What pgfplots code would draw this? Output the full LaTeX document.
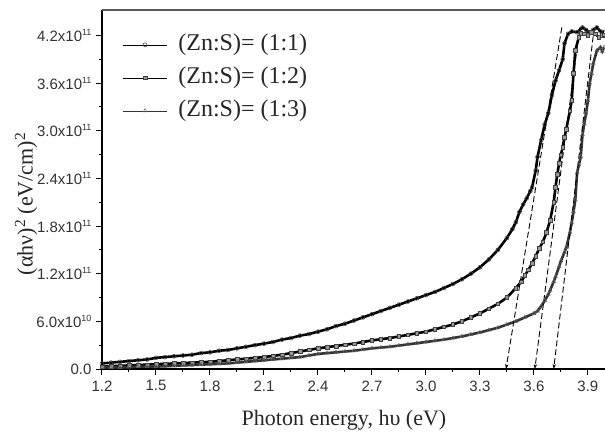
\documentclass[border=0pt]{standalone}
\usepackage{fontspec}
\setmainfont{Liberation Serif}
\newfontfamily\arial{Liberation Sans}
\usepackage{pgfplots}
\pgfplotsset{compat=1.18}
\usetikzlibrary{arrows.meta}
\newcommand\sci[2]{#1x10\raisebox{0.75ex}{\fontsize{9}{10}\selectfont #2}}
\begin{document}
\begin{tikzpicture}
\useasboundingbox (-102pt,-65pt) rectangle (503pt,369pt);
\begin{axis}[
  at={(0,0)}, anchor=south west,
  scale only axis, width=503pt, height=359pt,
  xmin=1.2, xmax=3.995, ymin=0, ymax=4.52,
  axis lines*=left,
  axis line style={-, line width=1.2pt},
  tick align=outside,
  major tick length=6pt, minor tick length=3pt,
  tick style={black, line width=1pt},
  minor x tick num=1, minor y tick num=1,
  xtick={1.2,1.5,1.8,2.1,2.4,2.7,3.0,3.3,3.6,3.9},
  xticklabels={1.2,1.5,1.8,2.1,2.4,2.7,3.0,3.3,3.6,3.9},
  ytick={0,0.6,1.2,1.8,2.4,3.0,3.6,4.2},
  yticklabels={0.0,\sci{6.0}{10},\sci{1.2}{11},\sci{1.8}{11},\sci{2.4}{11},\sci{3.0}{11},\sci{3.6}{11},\sci{4.2}{11}},
  ticklabel style={font=\arial\fontsize{15}{17}\selectfont, text=black!80},
  xticklabel style={yshift=-2pt},
  yticklabel style={xshift=-1pt},
  xlabel={Photon energy, hυ (eV)},
  ylabel={(αhν)\textsuperscript{2} (eV/cm)\textsuperscript{2}},
  xlabel style={font=\fontsize{22}{26}\selectfont, text=black!85, at={(axis description cs:0.481,-0.142)}, anchor=center},
  ylabel style={font=\fontsize{22}{26}\selectfont, text=black!85, at={(axis description cs:-0.151,0.46)}, anchor=center, rotate=0},
  clip=true,
  legend style={at={(axis description cs:0.035,0.955)}, anchor=north west, draw=none, fill=none,
    font=\fontsize{24}{26}\selectfont, text=black!85, row sep=0pt,
    nodes={inner sep=2pt, text height=20pt, text depth=9pt}},
  legend cell align=left,
  legend image code/.code={\draw[mark repeat=2,mark phase=2,#1,line width=0.6pt] plot coordinates {(0pt,0pt) (22pt,0pt) (44pt,0pt)}; \path (52pt,0pt);},
]
\addplot[black, line width=2.6pt, mark=o, mark size=2pt, mark options={solid, draw=black!75, line width=0.5pt}] coordinates {
(1.20,0.07)(1.25,0.08)(1.30,0.09)(1.35,0.10)(1.40,0.11)(1.45,0.12)(1.50,0.14)(1.55,0.15)(1.60,0.16)(1.65,0.17)(1.70,0.18)(1.75,0.20)
(1.80,0.21)(1.85,0.23)(1.90,0.24)(1.95,0.26)(2.00,0.28)(2.05,0.30)(2.10,0.32)(2.15,0.34)(2.20,0.37)(2.25,0.39)(2.30,0.42)(2.35,0.44)
(2.40,0.47)(2.45,0.50)(2.50,0.54)(2.55,0.57)(2.60,0.61)(2.65,0.65)(2.70,0.69)(2.75,0.73)(2.80,0.77)(2.85,0.81)(2.90,0.85)(2.95,0.89)
(3.00,0.93)(3.05,0.97)(3.10,1.02)(3.15,1.07)(3.20,1.13)(3.25,1.20)(3.30,1.28)(3.35,1.38)(3.40,1.50)(3.45,1.65)(3.48,1.76)(3.50,1.85)
(3.52,1.98)(3.54,2.07)(3.56,2.15)(3.58,2.24)(3.59,2.29)(3.61,2.50)(3.62,2.67)(3.64,2.88)(3.66,3.08)(3.68,3.22)(3.70,3.45)(3.72,3.63)
(3.74,3.76)(3.76,3.90)(3.77,4.10)(3.79,4.22)(3.81,4.25)(3.84,4.24)(3.87,4.30)(3.89,4.27)(3.91,4.23)(3.93,4.27)(3.95,4.30)(3.97,4.25)(3.99,4.24)
};
\addlegendentry{(Zn:S)= (1:1)}
\addplot[black, line width=2.6pt, mark=square*, mark size=1.8pt, mark options={solid, draw=black!75, fill=black!40, line width=0.5pt}] coordinates {
(1.20,0.03)(1.25,0.035)(1.30,0.04)(1.35,0.045)(1.40,0.05)(1.45,0.055)(1.50,0.06)(1.55,0.065)(1.60,0.07)(1.65,0.075)(1.70,0.08)(1.75,0.085)
(1.80,0.09)(1.85,0.10)(1.90,0.11)(1.95,0.12)(2.00,0.13)(2.05,0.14)(2.10,0.15)(2.15,0.165)(2.20,0.18)(2.25,0.20)(2.30,0.22)(2.35,0.24)
(2.40,0.26)(2.45,0.275)(2.50,0.29)(2.55,0.305)(2.60,0.32)(2.65,0.34)(2.70,0.36)(2.75,0.375)(2.80,0.39)(2.85,0.41)(2.90,0.43)(2.95,0.45)
(3.00,0.47)(3.05,0.50)(3.10,0.53)(3.15,0.56)(3.20,0.60)(3.25,0.65)(3.30,0.70)(3.35,0.76)(3.40,0.82)(3.45,0.90)(3.50,1.02)(3.53,1.10)
(3.55,1.18)(3.57,1.25)(3.59,1.33)(3.61,1.42)(3.63,1.52)(3.65,1.60)(3.67,1.72)(3.69,1.87)(3.71,2.10)(3.72,2.29)(3.73,2.45)(3.74,2.59)
(3.75,2.70)(3.76,2.79)(3.77,2.92)(3.78,3.02)(3.80,3.25)(3.81,3.38)(3.82,3.72)(3.83,4.01)(3.85,4.18)(3.86,4.23)(3.88,4.22)(3.90,4.20)
(3.92,4.24)(3.94,4.22)(3.96,4.18)(3.98,4.20)(3.99,4.21)
};
\addlegendentry{(Zn:S)= (1:2)}
\addplot[black!80, line width=2.6pt, mark=triangle, mark size=2.2pt, mark options={solid, draw=black!60, line width=0.5pt}] coordinates {
(1.20,0.02)(1.25,0.02)(1.30,0.02)(1.35,0.025)(1.40,0.03)(1.45,0.03)(1.50,0.03)(1.55,0.035)(1.60,0.04)(1.65,0.045)(1.70,0.05)(1.75,0.055)
(1.80,0.06)(1.85,0.065)(1.90,0.07)(1.95,0.08)(2.00,0.09)(2.05,0.10)(2.10,0.11)(2.15,0.12)(2.20,0.13)(2.25,0.14)(2.30,0.15)(2.35,0.17)
(2.40,0.19)(2.45,0.20)(2.50,0.21)(2.55,0.22)(2.60,0.23)(2.65,0.245)(2.70,0.26)(2.75,0.27)(2.80,0.28)(2.85,0.295)(2.90,0.31)(2.95,0.325)
(3.00,0.34)(3.05,0.355)(3.10,0.37)(3.15,0.39)(3.20,0.41)(3.25,0.435)(3.30,0.46)(3.35,0.49)(3.40,0.52)(3.45,0.56)(3.50,0.60)(3.55,0.65)
(3.60,0.70)(3.62,0.73)(3.64,0.79)(3.66,0.86)(3.68,0.94)(3.69,0.99)(3.71,1.10)(3.72,1.16)(3.74,1.29)(3.75,1.36)(3.77,1.47)(3.78,1.53)
(3.80,1.72)(3.81,1.84)(3.82,1.98)(3.83,2.13)(3.84,2.47)(3.85,2.57)(3.86,2.67)(3.87,2.95)(3.88,3.09)(3.89,3.22)(3.90,3.38)(3.91,3.60)
(3.92,3.72)(3.93,3.85)(3.95,4.01)(3.97,4.05)(3.98,4.00)(3.99,4.05)
};
\addlegendentry{(Zn:S)= (1:3)}
\addplot[black, dashed, dash pattern=on 6pt off 3pt, line width=0.9pt, -{Stealth[length=5pt,width=3.5pt]}] coordinates {(3.755,4.30) (3.445,0)};
\addplot[black, dashed, dash pattern=on 6pt off 3pt, line width=0.9pt, -{Stealth[length=5pt,width=3.5pt]}] coordinates {(3.855,4.30) (3.605,0)};
\addplot[black, dashed, dash pattern=on 6pt off 3pt, line width=0.9pt, -{Stealth[length=5pt,width=3.5pt]}] coordinates {(3.935,4.30) (3.710,0)};
\end{axis}
\draw[black!65, line width=2pt] (0pt,359pt) -- (503pt,359pt);
\end{tikzpicture}
\end{document}
